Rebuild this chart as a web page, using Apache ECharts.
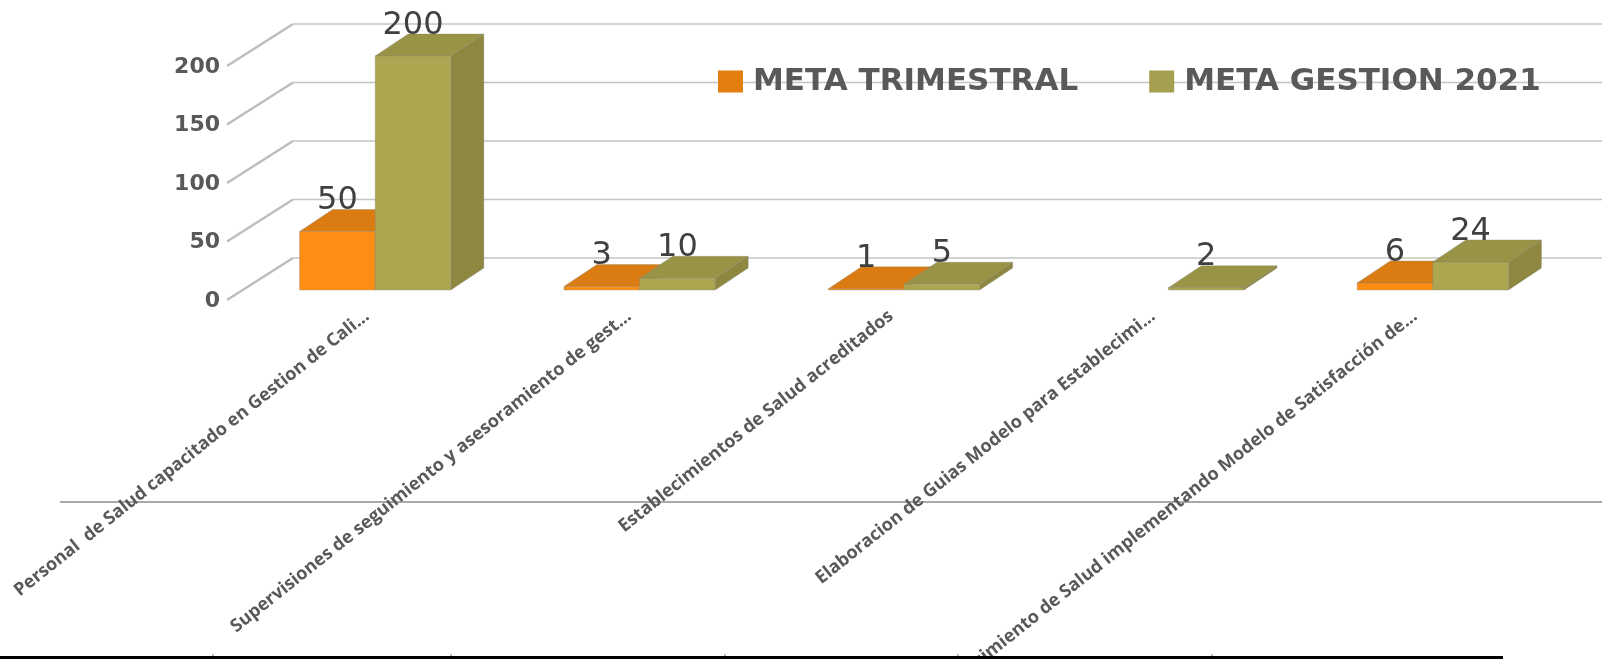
<!DOCTYPE html>
<html>
<head>
<meta charset="utf-8">
<style>html,body{margin:0;padding:0;background:#fff}#c{width:1602px;height:659px}</style>
<script src="https://cdn.jsdelivr.net/npm/echarts@6/dist/echarts.min.js"></script>
</head>
<body>
<div id="c"></div>
<script>
const categories = [
  'Personal  de Salud capacitado en Gestion de Cali...',
  'Supervisiones de seguimiento y asesoramiento de gest...',
  'Establecimientos de Salud acreditados',
  'Elaboracion de Guias Modelo para Establecimi...',
  'Establecimiento de Salud implementando Modelo de Satisfacción de...'
];
const metaTrimestral = [50, 3, 1, null, 6];
const metaGestion = [200, 10, 5, 2, 24];
const yTicks = [0, 50, 100, 150, 200];
const tableTicks = [213, 451, 725, 958, 1212];

const BAR_RATIO = 0.286, DX = 33, DY = 22;

function barRender(side, colors) {
  return function (params, api) {
    const v = api.value(1);
    if (v === null || v === undefined || isNaN(v)) return null;
    const top = api.coord([api.value(0), v]);
    const base = api.coord([api.value(0), 0]);
    const w = api.size([1, 0])[0] * BAR_RATIO;
    const x0 = side < 0 ? top[0] - w : top[0];
    const x1 = x0 + w;
    const yT = top[1], yB = base[1];
    const edge = 'rgba(130,130,120,0.55)';
    return {
      type: 'group',
      children: [
        { type: 'polygon', shape: { points: [[x1, yB], [x1 + DX, yB - DY], [x1 + DX, yT - DY], [x1, yT]] },
          style: { fill: colors.side, stroke: edge, lineWidth: 0.6 } },
        { type: 'polygon', shape: { points: [[x0, yT], [x0 + DX, yT - DY], [x1 + DX, yT - DY], [x1, yT]] },
          style: { fill: colors.top, stroke: edge, lineWidth: 0.6 } },
        { type: 'rect', shape: { x: x0, y: yT, width: w, height: yB - yT },
          style: { fill: colors.front, stroke: edge, lineWidth: 0.6 } },
        { type: 'text', z2: 50, style: { x: (x0 + x1) / 2, y: yT - DY - 8.5, text: String(v), align: 'center',
          verticalAlign: 'middle', fill: '#404040', font: '32px "DejaVu Sans"' } }
      ]
    };
  };
}

function wallRender(params, api) {
  const y = api.coord([0, api.value(0)])[1];
  const x = params.coordSys.x;
  return {
    type: 'group',
    children: [
      { type: 'line', shape: { x1: x - 16, y1: y + 10, x2: x + 50, y2: y - 32 },
        style: { stroke: '#bdbdbd', lineWidth: 2.4 } },
      { type: 'line', shape: { x1: x + 50, y1: y - 32, x2: api.getWidth(), y2: y - 32 },
        style: { stroke: '#c4c4c4', lineWidth: 1.6 } }
    ]
  };
}

const chart = echarts.init(document.getElementById('c'), null, { renderer: 'canvas' });
chart.setOption({
  animation: false,
  backgroundColor: '#fff',
  grid: [
    { left: 243, right: 37, top: 56, height: 234, outerBoundsMode: 'none' },
    { left: 236, width: 1310, top: 56, height: 234, outerBoundsMode: 'none' }
  ],
  legend: {
    left: 713, top: 61, itemWidth: 25, itemHeight: 22, itemGap: 71, icon: 'rect',
    data: ['META TRIMESTRAL', 'META GESTION 2021'],
    textStyle: { color: '#595959', fontFamily: 'DejaVu Sans', fontWeight: 'bold', fontSize: 31, padding: [0, 0, 0, 5] }
  },
  xAxis: [
    { type: 'category', data: categories, gridIndex: 0,
      axisLine: { show: false }, axisTick: { show: false }, axisLabel: { show: false } },
    { type: 'category', data: categories, gridIndex: 1,
      axisLine: { show: false }, axisTick: { show: false },
      axisLabel: { rotate: 38.5, interval: 0, margin: 24, color: '#595959', fontFamily: 'Open Sans', fontWeight: 'bold', fontSize: 18 } }
  ],
  yAxis: [
    { type: 'value', gridIndex: 0, min: 0, max: 200, interval: 50,
      axisLine: { show: false }, axisTick: { show: false }, splitLine: { show: false },
      axisLabel: { margin: 23, color: '#595959', fontFamily: 'DejaVu Sans', fontWeight: 'bold', fontSize: 22, verticalAlign: 'top', lineHeight: 22 } },
    { type: 'value', gridIndex: 1, min: 0, max: 200, interval: 50, show: false }
  ],
  series: [
    { type: 'custom', name: 'wall', silent: true, z: 1, data: yTicks.map(v => [v]),
      xAxisIndex: 0, yAxisIndex: 0, encode: { y: 0 }, renderItem: wallRender },
    { type: 'custom', name: 'META TRIMESTRAL', z: 3, itemStyle: { color: '#E37F11' },
      xAxisIndex: 0, yAxisIndex: 0,
      data: metaTrimestral.map((v, i) => [i, v]), encode: { x: 0, y: 1 },
      renderItem: barRender(-1, { front: '#FD8D14', top: '#DB7C12', side: '#B86A10' }) },
    { type: 'custom', name: 'META GESTION 2021', z: 4, itemStyle: { color: '#A59F50' },
      xAxisIndex: 0, yAxisIndex: 0,
      data: metaGestion.map((v, i) => [i, v]), encode: { x: 0, y: 1 },
      renderItem: barRender(1, { front: '#ADA650', top: '#999345', side: '#8D873F' }) }
  ],
  graphic: [
    { type: 'line', z: 0, shape: { x1: 60, y1: 502, x2: 1602, y2: 502 }, style: { stroke: '#8c8c8c', lineWidth: 1.5 } },
    { type: 'rect', z: 100, shape: { x: 0, y: 656, width: 1503, height: 3 }, style: { fill: '#000' } },
    ...tableTicks.map(x => ({ type: 'line', z: 100, shape: { x1: x, y1: 654, x2: x, y2: 656 }, style: { stroke: '#777', lineWidth: 1 } }))
  ]
});
</script>
</body>
</html>
